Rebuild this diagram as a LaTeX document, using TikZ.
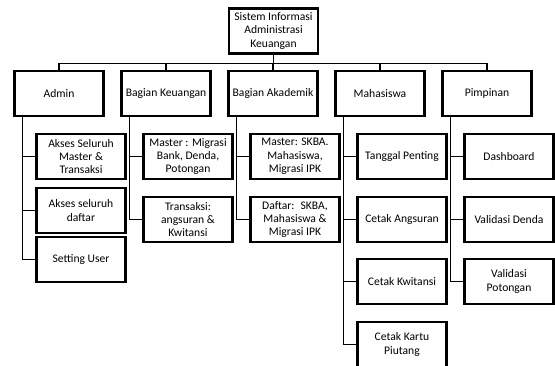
\documentclass[tikz,border=0pt]{standalone}
\usepackage{fontspec}
\setmainfont{Carlito}
\usepackage{tikz}

\begin{document}
\begin{tikzpicture}[x=1pt, y=1pt, node distance = 107pt,
  box/.style={draw, line width=2.2pt, minimum width=89pt, minimum height=45pt,
    inner sep=1pt, align=center, font=\fontsize{11.6pt}{13.3pt}\selectfont},
  link/.style={line width=1.8pt}]
\useasboundingbox (0,0) rectangle (555,365);
% root and first level
\node[box] (sia) at (273.5,334) {Sistem Informasi\\Administrasi\\Keuangan};
\node[box] (adm) at (59,271.5) {Admin};
\node[box] (keu) [right of = adm] {Bagian Keuangan};
\node[box] (aka) [right of = keu] {Bagian Akademik};
\node[box] (mhs) [right of = aka] {Mahasiswa};
\node[box] (pim) [right of = mhs] {Pimpinan};
% second level
\node[box] (adm1) at (81,208.5) {Akses Seluruh\\Master \&\\Transaksi};
\node[box] (adm2) at (81,154.5) {Akses seluruh\\daftar};
\node[box] (adm3) at (81,105.5) {Setting User};
\node[box] (keu1) at (188,208.5) {Master : Migrasi\\Bank, Denda,\\Potongan};
\node[box] (keu2) at (188,145.5) {Transaksi:\\angsuran \&\\Kwitansi};
\node[box] (aka1) at (295,208.5) {Master: SKBA.\\Mahasiswa,\\Migrasi IPK};
\node[box] (aka2) at (295,145.5) {Daftar:~ SKBA,\\Mahasiswa \&\\Migrasi IPK};
\node[box] (mhs1) at (402,208.5) {Tanggal Penting};
\node[box] (mhs2) at (402,145.5) {Cetak Angsuran};
\node[box] (mhs3) at (402,83.5) {Cetak Kwitansi};
\node[box] (mhs4) at (402,20.5) {Cetak Kartu\\Piutang};
\node[box] (pim1) at (509,208.5) {Dashboard};
\node[box] (pim2) at (509,145.5) {Validasi Denda};
\node[box] (pim3) at (509,83.5) {Validasi\\Potongan};

\foreach \n in {adm,keu,aka,mhs,pim}
  \draw[link] (sia.south) -- ++(0,-9) -| (\n.north);
\foreach \p/\c in {adm/adm1,adm/adm2,adm/adm3,keu/keu1,keu/keu2,aka/aka1,aka/aka2,
    mhs/mhs1,mhs/mhs2,mhs/mhs3,mhs/mhs4,pim/pim1,pim/pim2,pim/pim3}
  \draw[link] ([xshift=9pt]\p.south west) |- (\c.west);
\end{tikzpicture}
\end{document}
